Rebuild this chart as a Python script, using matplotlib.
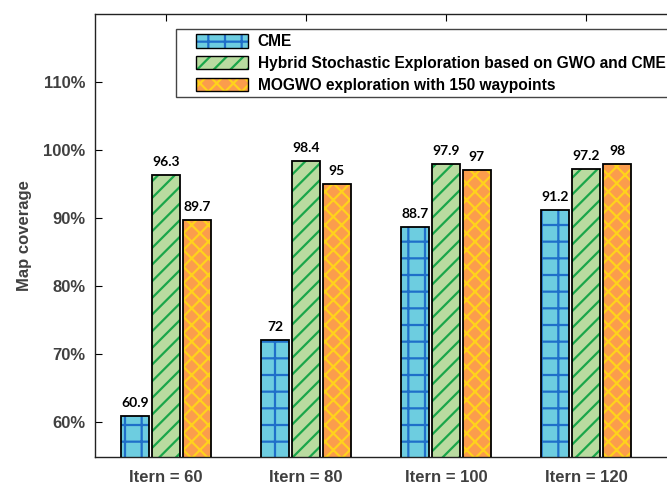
import numpy as np
import matplotlib.pyplot as plt
from matplotlib.patches import Patch, Rectangle

# coverage results per iteration count
groups = ['Itern = 60', 'Itern = 80', 'Itern = 100', 'Itern = 120']
cme = [60.9, 72, 88.7, 91.2]
hybrid = [96.3, 98.4, 97.9, 97.2]
mogwo = [89.7, 95, 97, 98]
series_names = ['CME',
                'Hybrid Stochastic Exploration based on GWO and CME',
                'MOGWO exploration with 150 waypoints']
yticks = [60, 70, 80, 90, 100, 110]

plt.rcParams['font.family'] = ['Liberation Sans', 'DejaVu Sans']
plt.rcParams['hatch.linewidth'] = 1.6

# face colour, hatch colour, hatch pattern
styles = [('#6dcde0', '#1f6fc9', '+'),
          ('#b9dba0', '#1aa64a', '//'),
          ('#fb9d4c', '#ffd21c', 'xx')]

W, H = 667, 484
fig = plt.figure(figsize=(W / 100, H / 100), dpi=100)
ax = fig.add_axes([95 / W, 27 / H, 575 / W, 443 / H])

x = np.arange(1, len(groups) + 1)
width = 0.2
step = 0.221
handles = []
for k, (vals, (face, hcol, hatch)) in enumerate(zip([cme, hybrid, mogwo], styles)):
    pos = x + (k - 1) * step
    ax.bar(pos, vals, width, color=face, edgecolor=hcol, hatch=hatch, linewidth=0, zorder=2)
    ax.bar(pos, vals, width, fill=False, edgecolor='black', linewidth=1.3, zorder=3)
    for p, v in zip(pos, vals):
        ax.annotate(f'{v:g}', (p, v), xytext=(0, 5), textcoords='offset points',
                    ha='center', va='bottom', fontsize=10, fontweight='bold',
                    family=['Lato', 'DejaVu Sans'], color='black')
    handles.append((Patch(facecolor=face, edgecolor=hcol, hatch=hatch, linewidth=0),
                    Patch(fill=False, edgecolor='black', linewidth=1.0)))

ax.set_xlim(0.493, 4.6)
ax.set_ylim(54.85, 120)
ax.set_xticks(x)
ax.set_xticklabels(groups)
ax.set_yticks(yticks)
ax.set_yticklabels([f'{t}%' for t in yticks])
ax.tick_params(axis='both', direction='in', length=5, labelsize=12, labelcolor='#404040', width=0.8)
ax.tick_params(axis='x', top=True, pad=9)
ax.tick_params(axis='y', pad=7)
for lab in ax.get_xticklabels() + ax.get_yticklabels():
    lab.set_fontweight('bold')
ax.set_ylabel('Map coverage', fontsize=12, fontweight='bold', color='#404040', labelpad=8)
for s in ax.spines.values():
    s.set_linewidth(1.0)
    s.set_color('#222222')

# legend box runs past the right edge of the figure, so draw its frame separately
fig.patches.append(Rectangle((176 / W, 1 - 97 / H), 560 / W, 68.5 / H,
                             transform=fig.transFigure, facecolor='white',
                             edgecolor='#444444', linewidth=1.0, zorder=4))
leg = fig.legend(handles, series_names, loc='upper left',
                 bbox_to_anchor=(196 / W, 1 - 34 / H), borderaxespad=0, borderpad=0,
                 prop={'weight': 'bold', 'size': 11.2}, handlelength=3.33, handleheight=0.96,
                 labelspacing=0.44, handletextpad=0.64, frameon=False)
leg.set_zorder(5)

fig.savefig('out.png', dpi=100)
